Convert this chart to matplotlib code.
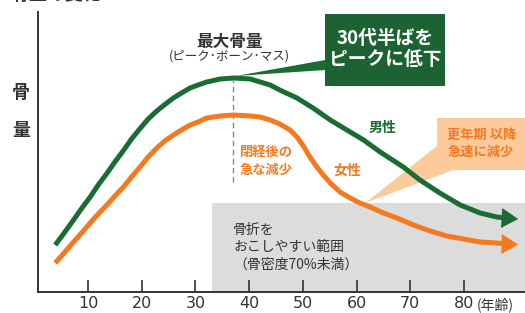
import matplotlib
matplotlib.use("Agg")
import matplotlib.pyplot as plt
from matplotlib.patches import Rectangle, Polygon

plt.rcParams['font.family'] = ['Noto Sans CJK JP', 'DejaVu Sans']

# --- data (age, relative bone mass) ---
male_age = [3.9, 5.7, 7.3, 8.8, 10.4, 11.9, 13.5, 15.0, 16.6, 18.1, 19.7, 21.2, 22.8, 24.3,
            25.9, 27.4, 29.0, 30.5, 32.1, 34.6, 37.1, 40.2, 43.9, 45.7, 48.9, 51.9, 55.1,
            58.2, 61.3, 64.4, 68.7, 71.8, 75.5, 79.3, 83.0, 86.1, 88.0]
male_mass = [47, 60, 72, 83.5, 95, 107, 118.5, 130, 141.5, 153, 163.5, 173, 181, 187.5,
             194, 199, 204, 207, 210, 213, 214, 213, 207, 202, 194, 184, 172,
             162, 152, 140, 125, 112, 99, 87, 79, 75, 74]
female_age = [3.9, 5.7, 7.3, 8.8, 10.4, 11.9, 13.5, 15.0, 16.6, 18.1, 19.7, 21.2, 22.8, 24.3,
              25.9, 27.4, 29.0, 30.5, 32.1, 34.6, 37.1, 40.2, 42.0, 43.9, 45.7, 47.6, 48.9,
              50.1, 51.3, 52.6, 53.8, 55.1, 56.9, 58.8, 60.6, 62.5, 65.0, 67.5, 70.6, 73.7,
              76.8, 79.9, 83.0, 86.1, 88.0]
female_mass = [29, 40, 50, 59, 69, 78, 87, 96, 105, 115, 125, 135, 144, 151,
               157, 162, 167, 170, 174, 176, 177, 176, 175, 172, 168, 162, 155,
               146, 135, 125, 117, 109, 100, 94, 89, 85, 79, 74, 67, 61,
               56, 53, 50, 49, 48]
arrow_end_age = 90.1
male_end, female_end = 73, 47.5

ticks = [10, 20, 30, 40, 50, 60, 70, 80]
peak_age = 37
fracture_age, fracture_top = 33.1, 89

green = '#1b6b35'
orange = '#f47920'
dark = '#333333'

fig = plt.figure(figsize=(5.25, 3.13), dpi=100)
ax = fig.add_axes([38 / 525, 21 / 313, 487 / 525, 280 / 313])
ax.set_xlim(0.69, 91.36)
ax.set_ylim(0, 280)

# fracture-risk zone
ax.add_patch(Rectangle((fracture_age, 0), 100, fracture_top, color='#dcdcdc', zorder=0, lw=0))

# peak marker
ax.plot([peak_age, peak_age], [110, 212], color='#888888', lw=1, ls=(0, (4, 2.5)), zorder=1)

# curves
ax.plot(male_age, male_mass, color=green, lw=3.6, solid_capstyle='butt',
        solid_joinstyle='round', zorder=3)
ax.plot(female_age, female_mass, color=orange, lw=3.6, solid_capstyle='butt',
        solid_joinstyle='round', zorder=3)
for a, m, c in [(male_age, male_mass, green), (female_age, female_mass, orange)]:
    end = male_end if c == green else female_end
    ax.annotate('', xy=(arrow_end_age, end), xytext=(a[-1] - 1, m[-1]),
                arrowprops=dict(arrowstyle='-|>,head_length=0.75,head_width=0.45', color=c,
                                lw=0, mutation_scale=16, shrinkA=0, shrinkB=0), zorder=4)

# green callout
ax.add_patch(Polygon([(37.5, 216), (54.2, 232), (54.2, 222)], color=green, lw=0, zorder=2))
ax.add_patch(Rectangle((54.1, 206), 22.4, 72, color='#1d6233', lw=0, zorder=2))
ax.text(65.3, 243, '30代半ばを\nピークに低下', color='white', fontsize=13.5, fontweight='bold',
        ha='center', va='center', linespacing=1.15, zorder=5)

# orange callout
ax.add_patch(Polygon([(61.6, 89), (75.2, 147), (78.0, 122)], color='#fdca9b', lw=0, zorder=2))
ax.add_patch(Rectangle((75.0, 122), 20, 52, color='#fdca9b', lw=0, zorder=2))
ax.text(83.2, 149, '更年期 以降\n急速に減少', color=orange, fontsize=9.5, fontweight='bold',
        ha='center', va='center', linespacing=1.3, zorder=5)

# labels
ax.text(36.4, 250, '最大骨量', color=dark, fontsize=12, fontweight='bold', ha='center', va='center')
ax.text(36.4, 236, '(ピーク･ボーン･マス)', color=dark, fontsize=9, ha='center', va='center')
ax.text(64.9, 164, '男性', color=green, fontsize=10, fontweight='bold', ha='center', va='center')
ax.text(58.2, 121, '女性', color=orange, fontsize=10, fontweight='bold', ha='center', va='center')
ax.text(38.3, 131, '閉経後の\n急な減少', color=orange, fontsize=9.5, fontweight='bold',
        ha='left', va='center', linespacing=1.3)
ax.text(37.0, 45, '骨折を\nおこしやすい範囲\n（骨密度70%未満）', color=dark, fontsize=10,
        ha='left', va='center', linespacing=1.3, zorder=5)

# axes styling
for s in ['top', 'right']:
    ax.spines[s].set_visible(False)
for s in ['left', 'bottom']:
    ax.spines[s].set_color(dark)
    ax.spines[s].set_linewidth(1.4)
ax.set_xticks(ticks)
ax.set_xticklabels([str(t) for t in ticks], fontsize=11.5, color=dark, family='DejaVu Sans')
ax.tick_params(axis='x', direction='in', length=8.5, width=1.2, color=dark, pad=3)
ax.set_yticks([])
ax.text(82.4, -13, '(年齢)', color=dark, fontsize=10, ha='left', va='center', clip_on=False)

fig.text(21 / 525, 1 - 92 / 313, '骨', color=dark, fontsize=13, fontweight='bold', ha='center', va='center')
fig.text(21 / 525, 1 - 130 / 313, '量', color=dark, fontsize=13, fontweight='bold', ha='center', va='center')
fig.text(12 / 525, 1 + 6 / 313, '骨量の変化', color=dark, fontsize=13, fontweight='bold', ha='left', va='center')

fig.savefig('out.png', dpi=100)
